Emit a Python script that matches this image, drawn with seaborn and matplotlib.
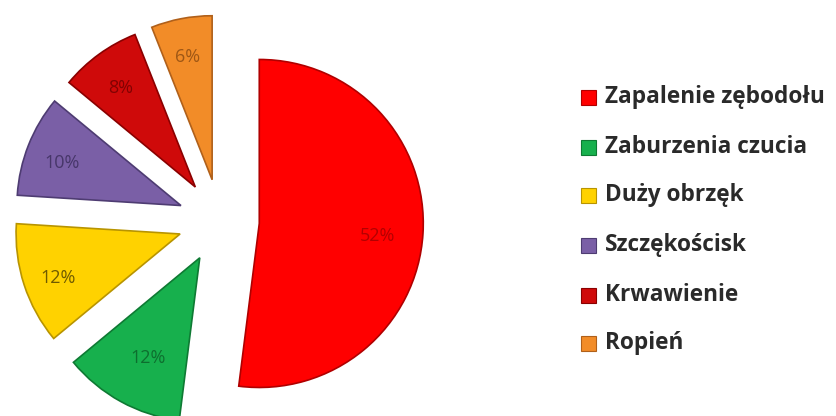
import matplotlib
matplotlib.use("Agg")
import matplotlib.pyplot as plt
import seaborn as sns
import numpy as np

# Complications after tooth extraction (share of cases, %)
categories = ["Zapalenie zębodołu", "Zaburzenia czucia", "Duży obrzęk",
              "Szczękościsk", "Krwawienie", "Ropień"]
values = [52, 12, 12, 10, 8, 6]
pct_labels = ["52%", "12%", "12%", "10%", "8%", "6%"]

colors = ["#FF0000", "#17B04D", "#FFD200", "#7A5FA6", "#CF0A0A", "#F28C28"]
edge_colors = ["#B00000", "#0E7A33", "#B89400", "#4E3C72", "#8A0000", "#B0601A"]
text_colors = ["#A00000", "#0B5E27", "#4A3C00", "#3A2C5A", "#6E0000", "#8A4A10"]
explode = [0.24, 0.256, 0.256, 0.256, 0.256, 0.256]
label_radius = [0.72, 0.66, 0.78, 0.78, 0.78, 0.79]

sns.set_theme(style="white")
plt.rcParams["font.family"] = ["Open Sans", "DejaVu Sans"]

W, H = 837, 416
fig = plt.figure(figsize=(W / 100, H / 100), dpi=100)
fig.patch.set_facecolor("white")

# pie area: left part of the figure, data units = radius 1 ~ 164 px
r_px = 164.0
cx, cy = 220.0, H - 221.0
ax_w = 450.0
ax = fig.add_axes([0, 0, ax_w / W, 1])

wedges, texts = ax.pie(
    values, colors=colors, startangle=90, counterclock=False,
    explode=explode, radius=1.0,
    wedgeprops=dict(linewidth=1.2),
)
for w, ec in zip(wedges, edge_colors):
    w.set_edgecolor(ec)

# percentage labels placed along each wedge's bisector
for w, lab, tc, ex, lr in zip(wedges, pct_labels, text_colors, explode, label_radius):
    ang = np.deg2rad((w.theta1 + w.theta2) / 2)
    d = ex + lr
    ax.text(d * np.cos(ang), d * np.sin(ang) - 0.03, lab, ha="center", va="center",
            fontsize=13, color=tc, alpha=0.8)

ax.set_aspect("auto")
ax.set_xlim(-cx / r_px, (ax_w - cx) / r_px)
ax.set_ylim(-cy / r_px, (H - cy) / r_px)
ax.axis("off")

# legend column on the right
lx_sq, lx_txt = 588.5, 605.0
row_y = [97, 147, 195, 245, 295, 343]
sq = 15.0
for y, name, c, ec in zip(row_y, categories, colors, edge_colors):
    fig.patches.append(plt.Rectangle(((lx_sq - sq / 2) / W, (H - y - sq / 2) / H),
                                     sq / W, sq / H, transform=fig.transFigure,
                                     facecolor=c, edgecolor=ec, linewidth=0.8))
    fig.text(lx_txt / W, (H - y) / H, name, ha="left", va="center",
             fontsize=16.3, fontweight="bold", color="#2a2a2a")

fig.savefig("out.png", dpi=100, facecolor="white")
